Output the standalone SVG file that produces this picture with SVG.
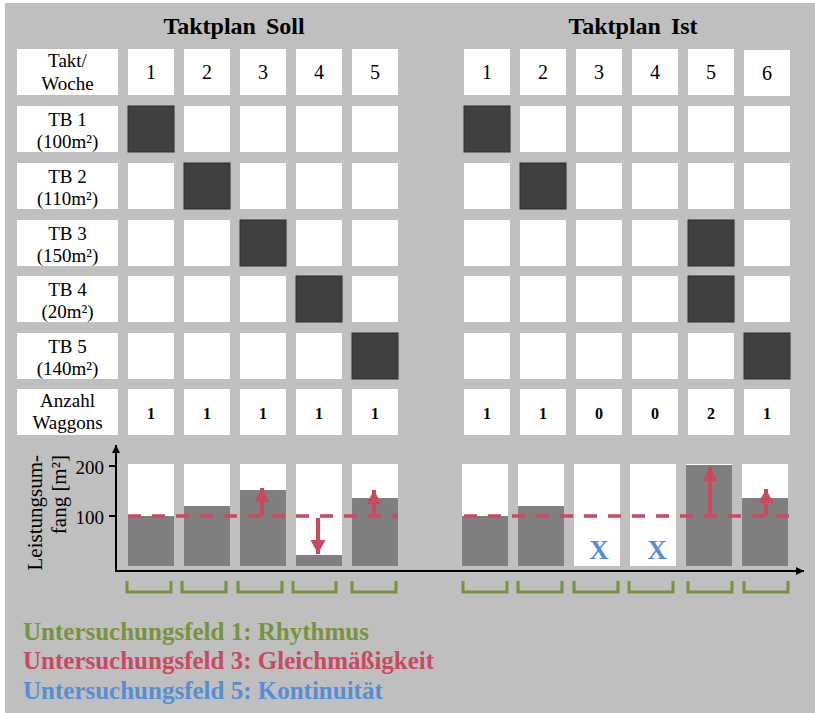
<svg xmlns="http://www.w3.org/2000/svg" width="815" height="713" viewBox="0 0 815 713">
<style>
.bg{fill:#BFBFBF}
.cell{fill:#FFFFFF}
.dark{fill:#404040;stroke:#2E2E2E;stroke-width:1}
.bar{fill:#7F7F7F}
.t{font-family:"Liberation Serif","Times New Roman",serif;fill:#000;text-anchor:middle}
.c{font-size:19px}
.n{font-size:20px}
.b{font-size:16px;font-weight:bold}
.title{font-family:"Liberation Serif","Times New Roman",serif;font-size:24px;font-weight:bold;text-anchor:middle;word-spacing:4px}
.axis{stroke:#000;stroke-width:2;fill:none}
.dash{stroke:#C9495F;stroke-width:3.5;stroke-dasharray:13 11;fill:none}
.rarrow{stroke:#C9495F;stroke-width:4;fill:none}
.brk{stroke:#77933C;stroke-width:3;fill:none}
.leg{font-family:"Liberation Serif","Times New Roman",serif;font-size:25px;font-weight:bold}
.xmark{font-family:"Liberation Serif","Times New Roman",serif;font-size:27px;font-weight:bold;fill:#558ED5;text-anchor:middle}
</style>
<defs>
<marker id="axhead" markerUnits="userSpaceOnUse" markerWidth="10" markerHeight="10" refX="8" refY="4" orient="auto">
<path d="M0,0 L8,4 L0,8 z" fill="#000"/>
</marker>
<marker id="rhead" markerUnits="userSpaceOnUse" markerWidth="16" markerHeight="16" refX="14" refY="7.5" orient="auto">
<path d="M0,0 L14,7.5 L0,15 z" fill="#C9495F"/>
</marker>
</defs>
<rect x="0" y="0" width="815" height="713" fill="#FFFFFF"/>
<rect class="bg" x="5" y="3" width="810" height="710"/>

<text class="title" x="234" y="34">Taktplan Soll</text>
<text class="title" x="633" y="34">Taktplan Ist</text>

<g id="soll-table">
<g id="row-header">
<rect class="cell" x="17" y="49" width="101" height="46"/>
<text class="t c" x="67.5" y="67">Takt/</text>
<text class="t c" x="67.5" y="90">Woche</text>
<rect class="cell" x="128" y="49" width="46" height="46"/><text class="t n" x="151" y="79">1</text>
<rect class="cell" x="184" y="49" width="46" height="46"/><text class="t n" x="207" y="79">2</text>
<rect class="cell" x="240" y="49" width="46" height="46"/><text class="t n" x="263" y="79">3</text>
<rect class="cell" x="296" y="49" width="46" height="46"/><text class="t n" x="319" y="79">4</text>
<rect class="cell" x="352" y="49" width="46" height="46"/><text class="t n" x="375" y="79">5</text>
</g>
<g id="row-tb1">
<rect class="cell" x="17" y="106" width="101" height="46"/>
<text class="t c" x="67.5" y="126">TB 1</text>
<text class="t c" x="67.5" y="148">(100m²)</text>
<rect class="dark" x="128" y="106" width="46" height="46"/>
<rect class="cell" x="184" y="106" width="46" height="46"/>
<rect class="cell" x="240" y="106" width="46" height="46"/>
<rect class="cell" x="296" y="106" width="46" height="46"/>
<rect class="cell" x="352" y="106" width="46" height="46"/>
</g>
<g id="row-tb2">
<rect class="cell" x="17" y="163" width="101" height="46"/>
<text class="t c" x="67.5" y="183">TB 2</text>
<text class="t c" x="67.5" y="205">(110m²)</text>
<rect class="cell" x="128" y="163" width="46" height="46"/>
<rect class="dark" x="184" y="163" width="46" height="46"/>
<rect class="cell" x="240" y="163" width="46" height="46"/>
<rect class="cell" x="296" y="163" width="46" height="46"/>
<rect class="cell" x="352" y="163" width="46" height="46"/>
</g>
<g id="row-tb3">
<rect class="cell" x="17" y="220" width="101" height="46"/>
<text class="t c" x="67.5" y="240">TB 3</text>
<text class="t c" x="67.5" y="262">(150m²)</text>
<rect class="cell" x="128" y="220" width="46" height="46"/>
<rect class="cell" x="184" y="220" width="46" height="46"/>
<rect class="dark" x="240" y="220" width="46" height="46"/>
<rect class="cell" x="296" y="220" width="46" height="46"/>
<rect class="cell" x="352" y="220" width="46" height="46"/>
</g>
<g id="row-tb4">
<rect class="cell" x="17" y="276" width="101" height="46"/>
<text class="t c" x="67.5" y="296">TB 4</text>
<text class="t c" x="67.5" y="318">(20m²)</text>
<rect class="cell" x="128" y="276" width="46" height="46"/>
<rect class="cell" x="184" y="276" width="46" height="46"/>
<rect class="cell" x="240" y="276" width="46" height="46"/>
<rect class="dark" x="296" y="276" width="46" height="46"/>
<rect class="cell" x="352" y="276" width="46" height="46"/>
</g>
<g id="row-tb5">
<rect class="cell" x="17" y="333" width="101" height="46"/>
<text class="t c" x="67.5" y="353">TB 5</text>
<text class="t c" x="67.5" y="375">(140m²)</text>
<rect class="cell" x="128" y="333" width="46" height="46"/>
<rect class="cell" x="184" y="333" width="46" height="46"/>
<rect class="cell" x="240" y="333" width="46" height="46"/>
<rect class="cell" x="296" y="333" width="46" height="46"/>
<rect class="dark" x="352" y="333" width="46" height="46"/>
</g>
<g id="row-anzahl">
<rect class="cell" x="17" y="389" width="101" height="46"/>
<text class="t c" x="67.5" y="407">Anzahl</text>
<text class="t c" x="67.5" y="429">Waggons</text>
<rect class="cell" x="128" y="389" width="46" height="46"/><text class="t b" x="151" y="419">1</text>
<rect class="cell" x="184" y="389" width="46" height="46"/><text class="t b" x="207" y="419">1</text>
<rect class="cell" x="240" y="389" width="46" height="46"/><text class="t b" x="263" y="419">1</text>
<rect class="cell" x="296" y="389" width="46" height="46"/><text class="t b" x="319" y="419">1</text>
<rect class="cell" x="352" y="389" width="46" height="46"/><text class="t b" x="375" y="419">1</text>
</g>
</g>

<g id="ist-table">
<g id="ist-header">
<rect class="cell" x="464" y="49" width="46" height="46"/><text class="t n" x="487" y="79">1</text>
<rect class="cell" x="520" y="49" width="46" height="46"/><text class="t n" x="543" y="79">2</text>
<rect class="cell" x="576" y="49" width="46" height="46"/><text class="t n" x="599" y="79">3</text>
<rect class="cell" x="632" y="49" width="46" height="46"/><text class="t n" x="655" y="79">4</text>
<rect class="cell" x="688" y="49" width="46" height="46"/><text class="t n" x="711" y="79">5</text>
<rect class="cell" x="744" y="50" width="46" height="46"/><text class="t n" x="767" y="80">6</text>
</g>
<g id="ist-tb1">
<rect class="dark" x="464" y="106" width="46" height="46"/>
<rect class="cell" x="520" y="106" width="46" height="46"/>
<rect class="cell" x="576" y="106" width="46" height="46"/>
<rect class="cell" x="632" y="106" width="46" height="46"/>
<rect class="cell" x="688" y="106" width="46" height="46"/>
<rect class="cell" x="744" y="106" width="46" height="46"/>
</g>
<g id="ist-tb2">
<rect class="cell" x="464" y="163" width="46" height="46"/>
<rect class="dark" x="520" y="163" width="46" height="46"/>
<rect class="cell" x="576" y="163" width="46" height="46"/>
<rect class="cell" x="632" y="163" width="46" height="46"/>
<rect class="cell" x="688" y="163" width="46" height="46"/>
<rect class="cell" x="744" y="163" width="46" height="46"/>
</g>
<g id="ist-tb3">
<rect class="cell" x="464" y="220" width="46" height="46"/>
<rect class="cell" x="520" y="220" width="46" height="46"/>
<rect class="cell" x="576" y="220" width="46" height="46"/>
<rect class="cell" x="632" y="220" width="46" height="46"/>
<rect class="dark" x="688" y="220" width="46" height="46"/>
<rect class="cell" x="744" y="220" width="46" height="46"/>
</g>
<g id="ist-tb4">
<rect class="cell" x="464" y="276" width="46" height="46"/>
<rect class="cell" x="520" y="276" width="46" height="46"/>
<rect class="cell" x="576" y="276" width="46" height="46"/>
<rect class="cell" x="632" y="276" width="46" height="46"/>
<rect class="dark" x="688" y="276" width="46" height="46"/>
<rect class="cell" x="744" y="276" width="46" height="46"/>
</g>
<g id="ist-tb5">
<rect class="cell" x="464" y="333" width="46" height="46"/>
<rect class="cell" x="520" y="333" width="46" height="46"/>
<rect class="cell" x="576" y="333" width="46" height="46"/>
<rect class="cell" x="632" y="333" width="46" height="46"/>
<rect class="cell" x="688" y="333" width="46" height="46"/>
<rect class="dark" x="744" y="333" width="46" height="46"/>
</g>
<g id="ist-anzahl">
<rect class="cell" x="464" y="389" width="46" height="46"/><text class="t b" x="487" y="419">1</text>
<rect class="cell" x="520" y="389" width="46" height="46"/><text class="t b" x="543" y="419">1</text>
<rect class="cell" x="576" y="389" width="46" height="46"/><text class="t b" x="599" y="419">0</text>
<rect class="cell" x="632" y="389" width="46" height="46"/><text class="t b" x="655" y="419">0</text>
<rect class="cell" x="688" y="389" width="46" height="46"/><text class="t b" x="711" y="419">2</text>
<rect class="cell" x="744" y="389" width="46" height="46"/><text class="t b" x="767" y="419">1</text>
</g>
</g>

<g id="chart">
<g id="soll-bars">
<rect class="cell" x="128" y="464" width="46" height="102"/><rect class="bar" x="128" y="516" width="46" height="50"/>
<rect class="cell" x="184" y="464" width="46" height="102"/><rect class="bar" x="184" y="506" width="46" height="60"/>
<rect class="cell" x="240" y="464" width="46" height="102"/><rect class="bar" x="240" y="490" width="46" height="76"/>
<rect class="cell" x="296" y="464" width="46" height="102"/><rect class="bar" x="296" y="555" width="46" height="11"/>
<rect class="cell" x="352" y="464" width="46" height="102"/><rect class="bar" x="352" y="498" width="46" height="68"/>
</g>
<g id="ist-bars">
<rect class="cell" x="462" y="464" width="46" height="102"/><rect class="bar" x="462" y="516" width="46" height="50"/>
<rect class="cell" x="518" y="464" width="46" height="102"/><rect class="bar" x="518" y="506" width="46" height="60"/>
<rect class="cell" x="574" y="464" width="46" height="102"/>
<rect class="cell" x="630" y="464" width="46" height="102"/>
<rect class="cell" x="686" y="464" width="46" height="102"/><rect class="bar" x="686" y="465" width="46" height="101"/>
<rect class="cell" x="742" y="464" width="46" height="102"/><rect class="bar" x="742" y="498" width="46" height="68"/>
</g>
<text class="xmark" x="599" y="559">X</text>
<text class="xmark" x="657" y="559">X</text>
<g id="y-label" font-family="Liberation Serif, Times New Roman, serif" font-size="21" text-anchor="end">
<text transform="translate(42,455) rotate(-90)">Leistungsum-</text>
<text transform="translate(66,455) rotate(-90)">fang [m²]</text>
</g>
<text class="t" style="font-size:19px;text-anchor:end" x="104" y="474">200</text>
<text class="t" style="font-size:19px;text-anchor:end" x="104" y="524">100</text>
</g>

<g id="connectors">
<line class="axis" x1="116" y1="572" x2="116" y2="445" marker-end="url(#axhead)"/>
<line class="axis" x1="109" y1="466" x2="116" y2="466"/>
<line class="axis" x1="109" y1="516" x2="116" y2="516"/>
<line class="axis" x1="115" y1="571" x2="804" y2="571" marker-end="url(#axhead)"/>
<line class="dash" x1="128" y1="516" x2="398" y2="516"/>
<line class="dash" x1="464" y1="516" x2="789" y2="516"/>
<line class="rarrow" x1="262" y1="516" x2="262" y2="488" marker-end="url(#rhead)"/>
<line class="rarrow" x1="318" y1="518" x2="318" y2="554" marker-end="url(#rhead)"/>
<line class="rarrow" x1="374" y1="516" x2="374" y2="490" marker-end="url(#rhead)"/>
<line class="rarrow" x1="710" y1="516" x2="710" y2="467" marker-end="url(#rhead)"/>
<line class="rarrow" x1="766" y1="516" x2="766" y2="489" marker-end="url(#rhead)"/>
</g>

<g id="brackets">
<path class="brk" d="M127,581 V592 H171 V581"/>
<path class="brk" d="M182,581 V592 H226 V581"/>
<path class="brk" d="M238,581 V592 H282 V581"/>
<path class="brk" d="M293,581 V592 H336 V581"/>
<path class="brk" d="M352,581 V592 H396 V581"/>
<path class="brk" d="M463,581 V592 H507 V581"/>
<path class="brk" d="M518,581 V592 H562 V581"/>
<path class="brk" d="M574,581 V592 H618 V581"/>
<path class="brk" d="M629,581 V592 H673 V581"/>
<path class="brk" d="M688,581 V592 H732 V581"/>
<path class="brk" d="M744,581 V592 H788 V581"/>
</g>

<g id="legend">
<text class="leg" x="23" y="640" fill="#77933C">Untersuchungsfeld 1: Rhythmus</text>
<text class="leg" x="23" y="669" fill="#C9495F">Untersuchungsfeld 3: Gleichmäßigkeit</text>
<text class="leg" x="23" y="699" fill="#558ED5">Untersuchungsfeld 5: Kontinuität</text>
</g>
</svg>
